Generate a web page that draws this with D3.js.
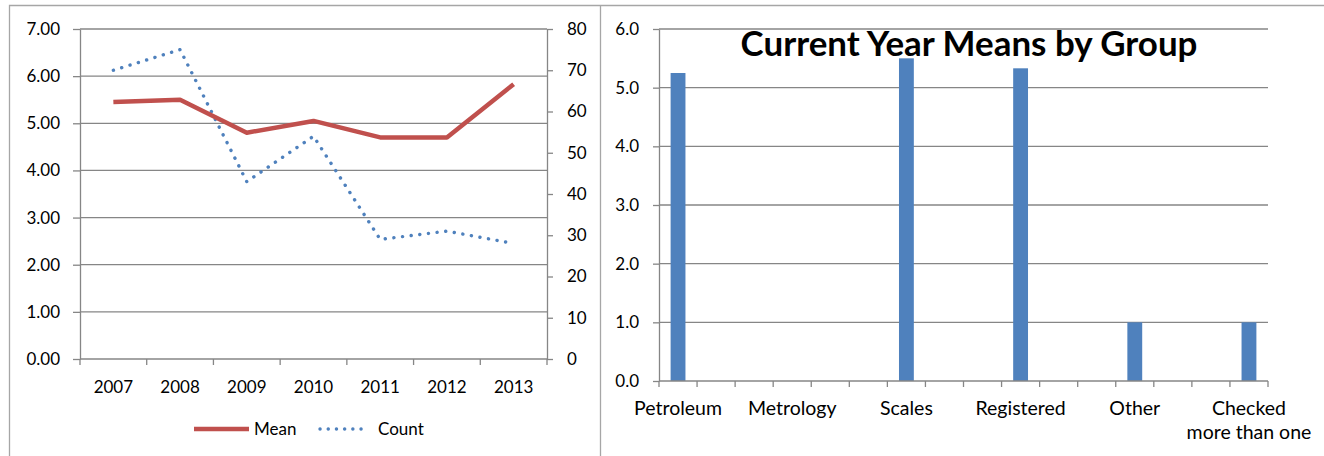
<!DOCTYPE html>
<html>
<head>
<meta charset="utf-8">
<script src="https://cdn.jsdelivr.net/npm/d3@7"></script>
<style>
  body { margin: 0; background: #fff; }
  text { font-family: Lato, "Open Sans", sans-serif; fill: #000; }
</style>
</head>
<body>
<div id="chart"></div>
<script>
// left chart data
var years = ["2007", "2008", "2009", "2010", "2011", "2012", "2013"];
var meanValues = [5.45, 5.5, 4.8, 5.05, 4.7, 4.7, 5.83];
var countValues = [70, 75, 43, 54, 29, 31, 28];
var meanTicks = [0, 1, 2, 3, 4, 5, 6, 7];
var countTicks = [0, 10, 20, 30, 40, 50, 60, 70, 80];

// right chart data (blank rows between the groups, as in the sheet)
var groups = ["Petroleum", "", "", "Metrology", "", "", "Scales", "", "", "Registered", "", "", "Other", "", "", "Checked\nmore than one"];
var groupMeans = [5.25, null, null, null, null, null, 5.5, null, null, 5.33, null, null, 1.0, null, null, 1.0];
var groupTicks = [0, 1, 2, 3, 4, 5, 6];

var gridColor = "#868686";
var red = "#C0504D", blue = "#4F81BD";

var svg = d3.select("#chart").append("svg")
  .attr("width", 1324)
  .attr("height", 456);

// panel borders
svg.append("path")
  .attr("d", "M9.5,460V5.5H1330M600.5,5.5V460")
  .attr("fill", "none")
  .attr("stroke", "#a6a6a6")
  .attr("stroke-width", 1.3);

// ---------- left chart: Mean / Count ----------
var L = { left: 80, right: 547, top: 29, bottom: 359 };

var x1 = d3.scaleBand().domain(years).range([L.left, L.right]).padding(0);
var yMean = d3.scaleLinear().domain([0, 7]).range([L.bottom, L.top]);
var yCount = d3.scaleLinear().domain([0, 80]).range([L.bottom, L.top]);

var left = svg.append("g");

left.selectAll(".grid1")
  .data(meanTicks.slice(1))
  .enter()
  .append("line")
  .attr("x1", L.left).attr("x2", L.right)
  .attr("y1", d => yMean(d)).attr("y2", d => yMean(d))
  .attr("stroke", gridColor).attr("stroke-width", 1.3);

function styleAxis(g) {
  g.select(".domain").attr("stroke", gridColor).attr("stroke-width", 1.3);
  g.selectAll(".tick line").attr("stroke", gridColor).attr("stroke-width", 1.3);
  g.selectAll(".tick text").attr("fill", "#000");
}

left.append("g")
  .attr("transform", "translate(" + L.left + ",0)")
  .call(d3.axisLeft(yMean).tickValues(meanTicks).tickFormat(d3.format(".2f")).tickSizeInner(7).tickSizeOuter(0).tickPadding(13))
  .call(styleAxis)
  .style("font-size", "17px");

left.append("g")
  .attr("transform", "translate(" + L.right + ",0)")
  .call(d3.axisRight(yCount).tickValues(countTicks).tickSizeInner(6).tickSizeOuter(0).tickPadding(14))
  .call(styleAxis)
  .style("font-size", "17px");

var xAxis1 = left.append("g")
  .attr("transform", "translate(0," + L.bottom + ")")
  .call(d3.axisBottom(x1).tickSize(0).tickPadding(22))
  .call(styleAxis)
  .style("font-size", "17px");
xAxis1.select(".domain").remove();
left.append("line")
  .attr("x1", L.left).attr("x2", L.right)
  .attr("y1", L.bottom).attr("y2", L.bottom)
  .attr("stroke", gridColor).attr("stroke-width", 1.3);

left.selectAll(".xtick1")
  .data(years.concat(["end"]))
  .enter()
  .append("line")
  .attr("x1", (d, i) => L.left + i * x1.step())
  .attr("x2", (d, i) => L.left + i * x1.step())
  .attr("y1", L.bottom).attr("y2", L.bottom + 6)
  .attr("stroke", gridColor).attr("stroke-width", 1.3);

var meanLine = d3.line()
  .x((d, i) => x1(years[i]) + x1.bandwidth() / 2)
  .y(d => yMean(d));

var countLine = d3.line()
  .x((d, i) => x1(years[i]) + x1.bandwidth() / 2)
  .y(d => yCount(d));

left.append("path")
  .datum(countValues)
  .attr("d", countLine)
  .attr("fill", "none")
  .attr("stroke", blue)
  .attr("stroke-width", 3.4)
  .attr("stroke-linecap", "round")
  .attr("stroke-dasharray", "0.1 8.6");

left.append("path")
  .datum(meanValues)
  .attr("d", meanLine)
  .attr("fill", "none")
  .attr("stroke", red)
  .attr("stroke-width", 4.5)
  .attr("stroke-linejoin", "round");

// legend
var legend = left.append("g").style("font-size", "17px");
legend.append("line")
  .attr("x1", 194).attr("x2", 249).attr("y1", 429).attr("y2", 429)
  .attr("stroke", red).attr("stroke-width", 4.5);
legend.append("text").attr("x", 254).attr("y", 435).text("Mean");
legend.append("line")
  .attr("x1", 320).attr("x2", 369).attr("y1", 429).attr("y2", 429)
  .attr("stroke", blue).attr("stroke-width", 3.4)
  .attr("stroke-linecap", "round")
  .attr("stroke-dasharray", "0.1 8.1");
legend.append("text").attr("x", 378).attr("y", 435).text("Count");

// ---------- right chart: Current Year Means by Group ----------
var R = { left: 659, right: 1268, top: 29, bottom: 381 };

var x2 = d3.scaleBand().domain(d3.range(groups.length)).range([R.left, R.right]).padding(0);
var y2 = d3.scaleLinear().domain([0, 6]).range([R.bottom, R.top]);

var right = svg.append("g");

right.selectAll(".grid2")
  .data(groupTicks.slice(1))
  .enter()
  .append("line")
  .attr("x1", R.left).attr("x2", R.right)
  .attr("y1", d => y2(d)).attr("y2", d => y2(d))
  .attr("stroke", gridColor).attr("stroke-width", 1.3);

right.append("g")
  .attr("transform", "translate(" + R.left + ",0)")
  .call(d3.axisLeft(y2).tickValues(groupTicks).tickFormat(d3.format(".1f")).tickSizeInner(6).tickSizeOuter(0).tickPadding(14))
  .call(styleAxis)
  .style("font-size", "17px");

var barW = x2.bandwidth() * 0.39;
right.selectAll(".bar")
  .data(groupMeans.map((v, i) => ({ i: i, v: v })).filter(d => d.v != null))
  .enter()
  .append("rect")
  .attr("class", "bar")
  .attr("x", d => x2(d.i) + (x2.bandwidth() - barW) / 2)
  .attr("y", d => y2(d.v))
  .attr("width", barW)
  .attr("height", d => R.bottom - y2(d.v))
  .attr("fill", blue);

right.append("line")
  .attr("x1", R.left).attr("x2", R.right)
  .attr("y1", R.bottom).attr("y2", R.bottom)
  .attr("stroke", gridColor).attr("stroke-width", 1.3);

right.selectAll(".xtick2")
  .data(groups.concat(["end"]))
  .enter()
  .append("line")
  .attr("x1", (d, i) => R.left + i * x2.step())
  .attr("x2", (d, i) => R.left + i * x2.step())
  .attr("y1", R.bottom).attr("y2", R.bottom + 6)
  .attr("stroke", gridColor).attr("stroke-width", 1.3);

var xLabels = right.selectAll(".xlab")
  .data(groups.map((g, i) => ({ i: i, g: g })).filter(d => d.g !== ""))
  .enter()
  .append("text")
  .attr("text-anchor", "middle")
  .style("font-size", "19.5px")
  .attr("transform", d => "translate(" + (x2(d.i) + x2.bandwidth() / 2) + "," + (R.bottom + 34) + ")");

xLabels.selectAll("tspan")
  .data(d => d.g.split("\n"))
  .enter()
  .append("tspan")
  .attr("x", 0)
  .attr("dy", (d, i) => i === 0 ? 0 : 24)
  .text(d => d);

// title
var title = right.append("text")
  .attr("x", 969)
  .attr("y", 56)
  .attr("text-anchor", "middle")
  .style("font-size", "30px")
  .style("font-weight", "bold")
  .text("Current Year Means by Group");
var tw = title.node().getComputedTextLength();
title.style("font-size", (30 * 457 / tw) + "px");
</script>
</body>
</html>
